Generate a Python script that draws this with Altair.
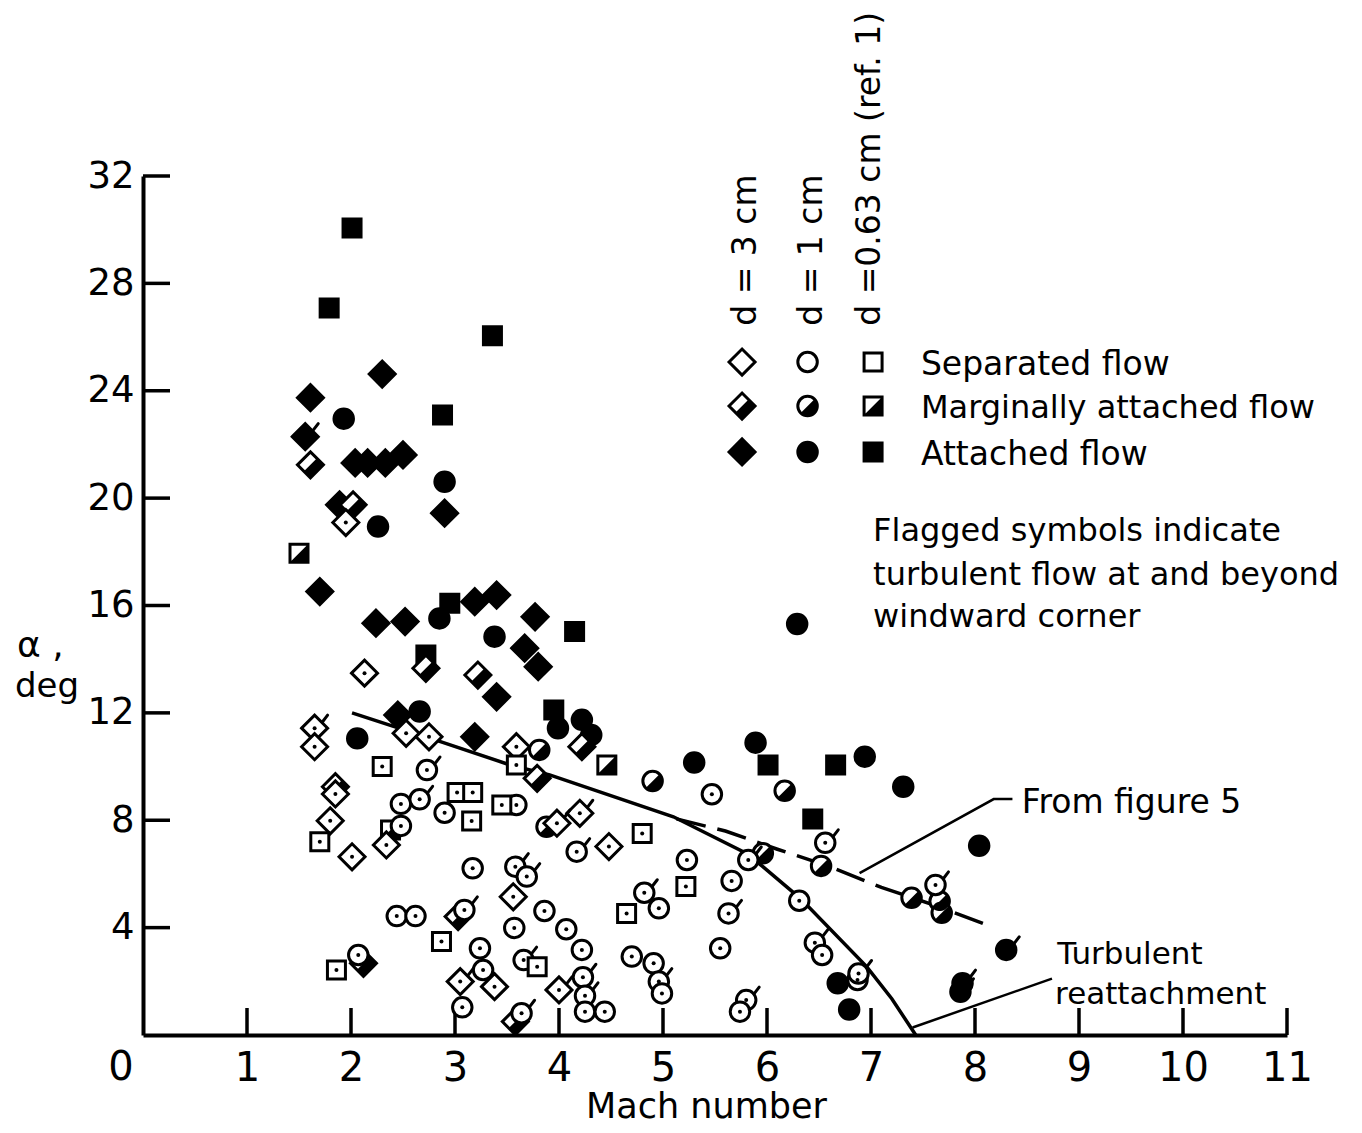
import math
import altair as alt
import pandas as pd

# ---------------- data: (Mach number, alpha [deg], flagged 0/1) ----------------
D3_SEPARATED = [
    (1.65, 11.43, 1), (1.65, 10.74, 0), (1.95, 19.09, 0), (2.13, 13.48, 0),
    (2.53, 11.24, 0), (2.75, 11.11, 0), (3.59, 10.74, 0), (1.85, 8.98, 0),
    (1.80, 7.98, 0), (2.01, 6.64, 0), (2.34, 7.08, 0), (3.98, 7.89, 1),
    (4.20, 8.26, 1), (4.48, 7.02, 0), (3.56, 5.15, 0), (3.05, 1.99, 1),
    (3.38, 1.80, 0), (4.00, 1.68, 1),
]
D3_MARGINAL = [
    (1.61, 21.24, 0), (2.02, 19.75, 0), (2.72, 13.66, 0), (3.22, 13.41, 0),
    (4.22, 10.74, 0), (3.79, 9.56, 0), (1.85, 9.25, 0), (3.03, 4.41, 0),
    (3.58, 0.50, 0), (2.12, 2.67, 0),
]
D3_ATTACHED = [
    (2.30, 24.62, 0), (1.61, 23.74, 0), (1.56, 22.29, 1), (2.04, 21.31, 0),
    (2.16, 21.31, 0), (2.33, 21.31, 0), (2.50, 21.61, 0), (2.90, 19.44, 0),
    (1.89, 19.75, 0), (1.70, 16.52, 0), (2.24, 15.34, 0), (2.52, 15.40, 0),
    (3.19, 16.14, 0), (3.40, 16.39, 0), (3.77, 15.58, 0), (3.67, 14.41, 0),
    (3.80, 13.72, 0), (3.40, 12.60, 0), (3.19, 11.11, 0), (2.45, 11.92, 0),
]
D1_SEPARATED = [
    (2.73, 9.87, 1), (2.48, 8.61, 0), (2.48, 7.79, 0), (2.66, 8.78, 1),
    (2.90, 8.28, 0), (3.59, 8.57, 0), (3.17, 6.21, 0), (3.58, 6.27, 1),
    (3.69, 5.90, 1), (3.86, 4.62, 0), (3.57, 3.99, 0), (4.07, 3.94, 0),
    (2.44, 4.43, 0), (2.62, 4.43, 0), (3.09, 4.66, 1), (3.24, 3.23, 0),
    (3.27, 2.42, 0), (3.07, 1.03, 0), (3.66, 2.79, 1), (3.64, 0.81, 1),
    (4.22, 3.17, 0), (4.23, 2.15, 1), (4.25, 1.46, 1), (4.25, 0.87, 0),
    (4.44, 0.87, 0), (2.07, 2.98, 0), (4.17, 6.83, 1), (5.23, 6.52, 0),
    (4.82, 5.30, 1), (4.96, 4.72, 0), (5.47, 8.97, 0), (5.66, 5.74, 0),
    (5.63, 4.53, 1), (5.55, 3.23, 0), (4.70, 2.92, 0), (4.91, 2.67, 0),
    (4.96, 1.99, 1), (4.99, 1.55, 0), (5.80, 1.30, 1), (5.74, 0.87, 0),
    (5.82, 6.52, 1), (6.56, 7.16, 1), (6.31, 5.00, 0), (6.46, 3.44, 1),
    (6.53, 2.98, 0), (6.87, 2.05, 0), (6.88, 2.29, 1), (7.62, 5.59, 1),
]
D1_MARGINAL = [
    (3.81, 10.62, 0), (4.90, 9.46, 0), (6.17, 9.10, 0), (6.52, 6.30, 0),
    (5.96, 6.77, 0), (7.39, 5.11, 0), (7.66, 4.98, 0), (7.68, 4.55, 0),
    (3.88, 7.76, 0),
]
D1_ATTACHED = [
    (1.93, 22.96, 0), (2.26, 18.94, 0), (2.90, 20.61, 0), (2.85, 15.52, 0),
    (3.38, 14.84, 0), (2.06, 11.05, 0), (2.66, 12.05, 0), (3.99, 11.43, 0),
    (4.22, 11.74, 0), (4.31, 11.18, 0), (5.30, 10.15, 0), (5.89, 10.89, 0),
    (6.29, 15.31, 0), (6.94, 10.37, 0), (7.31, 9.25, 0), (8.04, 7.05, 0),
    (6.68, 1.93, 0), (6.79, 0.95, 0), (8.30, 3.17, 1), (7.88, 1.93, 1),
    (7.86, 1.61, 1),
]
D063_SEPARATED = [
    (2.30, 10.00, 0), (1.70, 7.20, 0), (3.02, 9.03, 0), (3.17, 9.03, 0),
    (3.16, 7.97, 0), (3.45, 8.57, 0), (3.59, 10.06, 0), (2.87, 3.48, 0),
    (3.79, 2.54, 0), (1.86, 2.42, 0), (4.80, 7.51, 0), (5.22, 5.53, 0),
    (4.65, 4.53, 0),
]
D063_MARGINAL = [(1.50, 17.95, 0), (4.46, 10.06, 0), (2.38, 7.64, 0)]
D063_ATTACHED = [
    (2.01, 30.06, 0), (1.79, 27.08, 0), (3.36, 26.05, 0), (2.88, 23.10, 0),
    (2.72, 14.16, 0), (2.95, 16.08, 0), (4.15, 15.03, 0), (3.95, 12.11, 0),
    (6.01, 10.06, 0), (6.66, 10.06, 0), (6.44, 8.05, 0),
]

# curves
SOLID_M = [2.01, 2.86, 3.53, 3.91, 5.10, 5.80, 5.96, 6.32, 6.96, 7.20, 7.43]
SOLID_A = [12.00, 10.93, 10.06, 9.69, 8.13, 6.77, 6.27, 5.09, 2.54, 1.35, 0.00]
DASH_M = [5.13, 5.60, 6.10, 6.60, 7.10, 7.60, 8.08]
DASH_A = [8.05, 7.60, 6.92, 6.28, 5.50, 4.85, 4.15]

# leader lines of the annotations
FIG5_LEADER_M = [6.89, 8.18, 8.36]
FIG5_LEADER_A = [6.03, 8.79, 8.79]
TURB_LEADER_M = [7.40, 8.74]
TURB_LEADER_A = [0.28, 2.10]

X_DOMAIN = [0, 11]
Y_DOMAIN = [0, 32]
X_TICKS = list(range(1, 12))
Y_TICKS = list(range(4, 33, 4))

# ---------------- layout / style ----------------
FONT = "DejaVu Sans"
W, H = 1144, 859
CLASSES = ["d3", "d1", "d063"]
SHAPE = {"d3": "diamond", "d1": "circle", "d063": "square"}
SIZE = {"d3": 676, "d1": 380, "d063": 324}


def semicircle_path():
    pts = []
    for k in range(0, 19):
        ang = math.radians(-45 + k * 10)
        pts.append((math.cos(ang), math.sin(ang)))
    return "M" + "L".join(f"{x:.3f},{y:.3f}" for x, y in pts) + "Z"


HALF = {
    "d3": "M0.5,-0.5L1,0L0,1L-0.5,0.5Z",
    "d1": semicircle_path(),
    "d063": "M1,-1L1,1L-1,1Z",
}
FLAG = "M0.78,-0.62L1.3,-1.3"

xs = alt.Scale(domain=X_DOMAIN, nice=False, zero=False)
ys = alt.Scale(domain=Y_DOMAIN, nice=False, zero=False)

XAXIS = alt.Axis(values=X_TICKS, ticks=False, tickSize=0, grid=False, domainWidth=4,
                 domainColor="black", labelFont=FONT, labelFontSize=40, labelColor="black",
                 labelPadding=13, labelFlush=False, labelOverlap=False,
                 title="Mach number", titleFont=FONT, titleFontSize=35, titleFontWeight="normal",
                 titleColor="black", titleX=563, titleY=82, titleAlign="center",
                 titleBaseline="alphabetic")
YAXIS = alt.Axis(values=Y_TICKS, ticks=False, tickSize=0, grid=False, domainWidth=4,
                 domainColor="black", labelFont=FONT, labelFontSize=37, labelColor="black",
                 labelPadding=9, labelFlush=False, labelOverlap=False, title=None)


def XE(f="M"):
    return alt.X(f"{f}:Q", scale=xs, axis=XAXIS, title="Mach number")


def YE(f="A"):
    return alt.Y(f"{f}:Q", scale=ys, axis=YAXIS, title=None)


def frame(points, cls):
    return pd.DataFrame({
        "M": [p[0] for p in points],
        "A": [p[1] for p in points],
        "flag": [p[2] for p in points],
        "shape": SHAPE[cls],
        "half": HALF[cls],
        "size": SIZE[cls],
    })


GROUPS = {
    "A": [frame(D3_ATTACHED, "d3"), frame(D1_ATTACHED, "d1"), frame(D063_ATTACHED, "d063")],
    "M": [frame(D3_MARGINAL, "d3"), frame(D1_MARGINAL, "d1"), frame(D063_MARGINAL, "d063")],
    "S": [frame(D3_SEPARATED, "d3"), frame(D1_SEPARATED, "d1"), frame(D063_SEPARATED, "d063")],
}

# custom legend placed inside the plot (data units)
LEG_X = {"d3": 5.76, "d1": 6.39, "d063": 7.02}
LEG_Y = {"S": 25.07, "M": 23.43, "A": 21.72}


def legend_frame(flow):
    return pd.DataFrame({
        "M": [LEG_X[c] for c in CLASSES],
        "A": [LEG_Y[flow]] * 3,
        "flag": [0, 0, 0],
        "shape": [SHAPE[c] for c in CLASSES],
        "half": [HALF[c] for c in CLASSES],
        "size": [SIZE[c] for c in CLASSES],
    })


def symbol_layers(df, flow, dots=True):
    out = []
    fill = "black" if flow == "A" else "white"
    out.append(
        alt.Chart(df).mark_point(filled=True, opacity=1, stroke="black", strokeWidth=3, fill=fill)
        .encode(x=XE(), y=YE(), shape=alt.Shape("shape:N", scale=None),
                size=alt.Size("size:Q", scale=None))
    )
    if flow == "M":
        out.append(
            alt.Chart(df).mark_point(filled=True, opacity=1, color="black", strokeWidth=0)
            .encode(x=XE(), y=YE(), shape=alt.Shape("half:N", scale=None),
                    size=alt.Size("size:Q", scale=None))
        )
    if flow == "S" and dots:
        out.append(
            alt.Chart(df).mark_point(filled=True, opacity=1, color="black", shape="circle", size=16)
            .encode(x=XE(), y=YE())
        )
    return out


layers = []

# inward ticks
layers.append(
    alt.Chart(pd.DataFrame({"M": X_TICKS})).mark_rule(color="black", strokeWidth=3.5)
    .encode(x=XE(), y=alt.value(H), y2=alt.value(H - 27))
)
layers.append(
    alt.Chart(pd.DataFrame({"A": Y_TICKS})).mark_rule(color="black", strokeWidth=3.5)
    .encode(y=YE(), x=alt.value(0), x2=alt.value(27))
)

# curves
layers.append(
    alt.Chart(pd.DataFrame({"M": SOLID_M, "A": SOLID_A})).mark_line(color="black", strokeWidth=3.5)
    .encode(x=XE(), y=YE())
)
layers.append(
    alt.Chart(pd.DataFrame({"M": DASH_M, "A": DASH_A}))
    .mark_line(color="black", strokeWidth=3.5, strokeDash=[30, 12])
    .encode(x=XE(), y=YE())
)
layers.append(
    alt.Chart(pd.DataFrame({"M": FIG5_LEADER_M, "A": FIG5_LEADER_A, "o": [0, 1, 2]}))
    .mark_line(color="black", strokeWidth=2.5)
    .encode(x=XE(), y=YE(), order="o:Q")
)
layers.append(
    alt.Chart(pd.DataFrame({"M": TURB_LEADER_M, "A": TURB_LEADER_A}))
    .mark_line(color="black", strokeWidth=2.5)
    .encode(x=XE(), y=YE())
)

# data symbols
for flow in ["A", "M", "S"]:
    for df in GROUPS[flow]:
        layers += symbol_layers(df, flow)

flags = pd.concat([d[d["flag"] == 1] for f in GROUPS for d in GROUPS[f]])
layers.append(
    alt.Chart(flags).mark_point(shape=FLAG, filled=False, color="black", strokeWidth=3,
                                size=400, opacity=1, strokeCap="round")
    .encode(x=XE(), y=YE())
)

# legend symbols
for flow in ["S", "M", "A"]:
    layers += symbol_layers(legend_frame(flow), flow, dots=False)

# legend headers (rotated)
HEADERS = pd.DataFrame({
    "t": ["d = 3 cm", "d = 1 cm", "d =0.63 cm (ref. 1)"],
    "M": [5.89, 6.53, 7.09],
    "A": [26.42, 26.42, 26.42],
})
layers.append(
    alt.Chart(HEADERS).mark_text(angle=270, align="left", baseline="alphabetic",
                                 font=FONT, fontSize=33, color="black")
    .encode(x=XE(), y=YE(), text="t:N")
)

# text annotations
ANNOT = pd.DataFrame({
    "t": ["Separated flow", "Marginally attached flow", "Attached flow",
          "Flagged symbols indicate", "turbulent flow at and beyond", "windward corner",
          "From figure 5", "Turbulent", "reattachment"],
    "M": [7.48, 7.48, 7.48, 7.02, 7.02, 7.02, 8.45, 8.79, 8.77],
    "A": [24.60, 22.99, 21.24, 18.41, 16.77, 15.20, 8.26, 2.65, 1.15],
    "fs": [33, 32, 33, 32, 32, 32, 33, 31, 31],
})
layers.append(
    alt.Chart(ANNOT).mark_text(align="left", baseline="alphabetic", font=FONT, color="black")
    .encode(x=XE(), y=YE(), text="t:N", size=alt.Size("fs:Q", scale=None))
)

# y-axis title and corner "0"
one = pd.DataFrame({"t": ["x"]})
layers.append(alt.Chart(one).mark_text(text="α ,", align="left", baseline="alphabetic",
                                       font=FONT, fontSize=36, color="black")
              .encode(x=alt.value(-126), y=alt.value(481)))
layers.append(alt.Chart(one).mark_text(text="deg", align="left", baseline="alphabetic",
                                       font=FONT, fontSize=34, color="black")
              .encode(x=alt.value(-128), y=alt.value(521)))
layers.append(alt.Chart(one).mark_text(text="0", align="center", baseline="alphabetic",
                                       font=FONT, fontSize=40, color="black")
              .encode(x=alt.value(-22), y=alt.value(904)))

chart = (
    alt.layer(*layers)
    .properties(width=W, height=H,
                padding={"left": 135, "top": 168, "right": 66, "bottom": 95},
                autosize=alt.AutoSizeParams(type="none"))
    .configure_view(stroke=None)
)

chart.save("out.html", embed_options={"renderer": "svg", "actions": False})
